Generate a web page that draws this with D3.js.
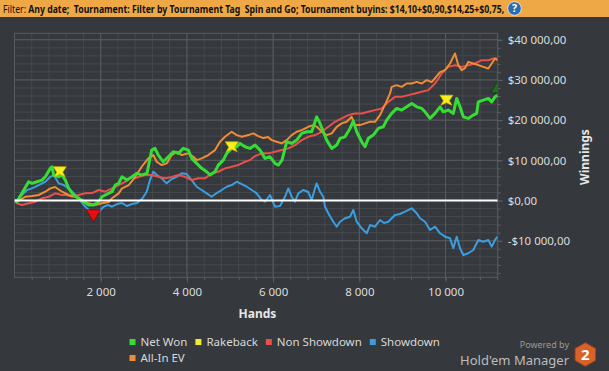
<!DOCTYPE html>
<html>
<head>
<meta charset="utf-8">
<script src="https://cdn.jsdelivr.net/npm/d3@7"></script>
<style>
  body { margin: 0; background: #35383c; }
  svg { display: block; font-family: "Segoe UI", "Noto Sans", sans-serif; }
</style>
</head>
<body>
<svg id="graph"></svg>
<script>
// [hands, winnings]
const netWon = [[0,0],[58,-300],[174,1860],[329,4670],[406,4270],[522,4670],[638,5090],[715,5910],[831,8000],[870,8400],[909,6340],[1025,5910],[1102,6340],[1179,5090],[1257,3030],[1373,1370],[1489,550],[1605,-300],[1721,-1120],[1837,-1120],[1953,-300],[2030,940],[2107,1370],[2262,2190],[2339,3850],[2417,4270],[2494,5910],[2610,5090],[2726,5910],[2842,6760],[2951,6340],[3074,6760],[3183,12550],[3260,12970],[3336,11310],[3452,9640],[3568,10880],[3684,12130],[3800,11730],[3916,12970],[4032,12550],[4111,10490],[4227,9240],[4343,8000],[4459,7160],[4536,6340],[4652,7160],[4728,8820],[4844,10060],[4923,11730],[5039,12970],[5155,13370],[5232,14210],[5348,13370],[5464,12970],[5580,13790],[5696,12550],[5812,10490],[5928,10880],[6044,9240],[6120,8820],[6206,10060],[6315,14610],[6431,14210],[6547,15030],[6663,16700],[6779,17100],[6895,17100],[7011,20820],[7088,19180],[7164,17100],[7243,15030],[7359,12970],[7475,13790],[7552,15460],[7668,15850],[7784,17940],[7860,19760],[7939,17100],[8055,14610],[8132,13370],[8208,15460],[8324,16280],[8440,17940],[8556,18340],[8635,20000],[8751,21670],[8867,22910],[8983,22490],[9099,23310],[9215,24150],[9331,23310],[9447,22910],[9524,22070],[9640,20430],[9756,21670],[9872,23310],[9948,22070],[10064,22490],[10180,21670],[10259,25400],[10336,23310],[10412,20820],[10528,20430],[10644,21250],[10723,21670],[10760,24550],[10876,24970],[10992,25400],[11071,24550],[11148,25790],[11201,26220]];

const allInEV = [[0,0],[58,-300],[251,940],[406,1120],[561,1370],[715,2190],[831,3030],[940,3360],[1102,2190],[1257,1370],[1411,940],[1566,120],[1721,-700],[1875,-1120],[2030,-700],[2185,-370],[2262,550],[2417,1790],[2494,3030],[2649,3850],[2803,5910],[2951,8400],[3104,10490],[3220,11310],[3299,9640],[3415,8820],[3531,9240],[3647,11310],[3763,12130],[3879,11310],[4032,11730],[4148,10880],[4227,10060],[4343,10490],[4496,11310],[4652,12550],[4768,14610],[4884,15850],[5039,17100],[5155,16280],[5278,15850],[5424,16280],[5540,16700],[5656,16030],[5772,15530],[5881,15780],[5967,15030],[6083,14610],[6199,14210],[6315,15030],[6431,16280],[6547,17100],[6663,17520],[6816,18340],[6932,18760],[7018,18340],[7127,17100],[7243,16280],[7359,16700],[7475,18340],[7591,19180],[7707,19580],[7823,20820],[7900,18760],[8016,18760],[8132,19180],[8248,19580],[8364,19580],[8480,21250],[8556,22990],[8635,24730],[8712,26640],[8751,28280],[8867,28700],[8983,28280],[9099,29120],[9215,29120],[9331,29520],[9447,29120],[9563,29940],[9679,29450],[9756,30440],[9872,31930],[9988,32430],[10104,34090],[10180,35730],[10220,36580],[10296,33670],[10375,32430],[10452,32930],[10528,34490],[10644,34090],[10760,33670],[10876,33250],[10992,32850],[11071,34090],[11148,35340],[11201,34910]];

const nonShowdown = [[0,0],[58,-700],[174,-1120],[329,-700],[483,-300],[638,550],[793,940],[947,1790],[1102,1370],[1218,1370],[1334,940],[1489,1370],[1643,1790],[1798,1860],[1953,2610],[2107,2190],[2262,3030],[2417,3850],[2571,4670],[2726,5910],[2796,5590],[3028,6340],[3183,6340],[3336,5910],[3492,5520],[3647,5840],[3800,6340],[3956,5910],[4111,5090],[4264,5520],[4420,5520],[4575,6760],[4728,7160],[4884,8000],[5039,8400],[5192,8820],[5348,9640],[5464,10060],[5580,11060],[5735,11730],[5888,11730],[6044,12130],[6199,12550],[6352,12970],[6508,13790],[6663,15030],[6816,15850],[6972,16280],[7127,17100],[7280,18340],[7436,19580],[7591,20430],[7744,21250],[7900,21670],[8055,21670],[8208,22070],[8364,22490],[8519,22910],[8672,24550],[8828,25790],[8983,25840],[9136,26220],[9292,26640],[9447,27040],[9600,27460],[9756,29120],[9911,31610],[10064,33250],[10220,33670],[10375,33250],[10528,33670],[10684,34090],[10839,34910],[10992,34910],[11108,35340],[11201,35340]];

const showdown = [[0,0],[58,120],[174,1370],[290,2610],[406,3030],[561,3850],[715,4670],[831,5910],[909,6340],[1025,4270],[1141,3850],[1257,3030],[1373,1790],[1489,550],[1605,-1120],[1721,-2360],[1837,-3600],[1953,-2780],[2069,-1540],[2169,-1120],[2262,-1540],[2378,-870],[2494,-620],[2610,-1370],[2726,-870],[2842,-620],[2958,370],[3067,2190],[3144,5090],[3220,7160],[3306,6340],[3415,5520],[3531,4270],[3647,5340],[3763,5910],[3879,6760],[3995,6590],[4111,5090],[4227,3430],[4343,2610],[4459,1790],[4575,940],[4691,1860],[4807,2610],[4923,3430],[5039,3850],[5155,4670],[5271,4100],[5387,3430],[5503,2610],[5619,1790],[5735,120],[5812,-300],[5928,1370],[6044,-1540],[6160,-1370],[6276,940],[6352,3030],[6431,940],[6508,-300],[6584,1790],[6700,2610],[6816,2110],[6895,120],[6972,3030],[7011,4270],[7088,2190],[7164,940],[7204,-1540],[7280,-3180],[7396,-5270],[7475,-6510],[7552,-5270],[7668,-4420],[7784,-4030],[7860,-2360],[7939,-5270],[8055,-6910],[8171,-8150],[8248,-6090],[8364,-6510],[8480,-4850],[8572,-5590],[8672,-5270],[8828,-3600],[8944,-3360],[9060,-2780],[9215,-1940],[9331,-3180],[9408,-4420],[9524,-5270],[9640,-7330],[9756,-6510],[9872,-8150],[9988,-9000],[10104,-9390],[10180,-11880],[10259,-9000],[10336,-11880],[10412,-13550],[10528,-13120],[10644,-12300],[10760,-9820],[10876,-10240],[10992,-9820],[11071,-11480],[11148,-9820],[11201,-9000]];

const rakebackMarks = [[1050,7160],[5040,13370],[10020,24970]];
const lowMarks = [[1830,-3800]];
const highMarks = [[11210,28280]];

const handTicks = [2000, 4000, 6000, 8000, 10000];
const winTicks = [-10000, 0, 10000, 20000, 30000, 40000];

const legendRows = [
    [['Net Won', '#35dd35'], ['Rakeback', '#f2ea2e'], ['Non Showdown', '#e8504c'], ['Showdown', '#3a9ee0']],
    [['All-In EV', '#f08c35']]
];

const filterLabel = 'Filter: ';
const filterText = 'Any date;  Tournament: Filter by Tournament Tag  Spin and Go; Tournament buyins: $14,10+$0,90,$14,25+$0,75,';

const width = 609;
const height = 371;
const plot = {left: 14.5, right: 497.7, top: 33.3, bottom: 277.3};

const svg = d3.select('#graph').attr('width', width).attr('height', height);

svg.append('rect').attr('width', width).attr('height', height).attr('fill', '#35383c');

// filter bar
svg.append('rect').attr('width', width).attr('height', 17).attr('fill', '#efa846');
const title = svg.append('text')
    .attr('font-size', 11).attr('fill', '#111')
    .attr('xml:space', 'preserve');
title.append('tspan').text(filterLabel);
title.append('tspan').attr('font-weight', 'bold').text(filterText);
const titleLen = title.node().getComputedTextLength();
const sx = Math.min(1, 502 / titleLen);
title.attr('transform', `translate(3,12.5) scale(${sx},1)`);

const help = svg.append('g').attr('transform', 'translate(514.5,8.5)');
help.append('circle').attr('r', 6.8).attr('fill', '#2a6cb0').attr('stroke', '#e8eef5').attr('stroke-width', 0.8);
help.append('text').attr('text-anchor', 'middle').attr('y', 3.8)
    .attr('font-size', 10.5).attr('font-weight', 'bold').attr('fill', '#fff').text('?');

const x = d3.scaleLinear().domain([0, 11210]).range([plot.left, plot.right]);
const y = d3.scaleLinear().domain([-19100, 41600]).range([plot.bottom, plot.top]);

// grid
const grid = svg.append('g');
grid.selectAll('line.vminor')
    .data(d3.range(400, 11210, 400))
    .join('line')
    .attr('x1', d => x(d)).attr('x2', d => x(d))
    .attr('y1', plot.top).attr('y2', plot.bottom)
    .attr('stroke', '#45494d').attr('stroke-width', 1);
grid.selectAll('line.hminor')
    .data(d3.range(-18000, 41600, 2000))
    .join('line')
    .attr('x1', plot.left).attr('x2', plot.right)
    .attr('y1', d => y(d)).attr('y2', d => y(d))
    .attr('stroke', '#45494d').attr('stroke-width', 1);
grid.selectAll('line.vmajor')
    .data(handTicks)
    .join('line')
    .attr('x1', d => x(d)).attr('x2', d => x(d))
    .attr('y1', plot.top).attr('y2', plot.bottom)
    .attr('stroke', '#585c60').attr('stroke-width', 1);
grid.selectAll('line.hmajor')
    .data(winTicks)
    .join('line')
    .attr('x1', plot.left).attr('x2', plot.right)
    .attr('y1', d => y(d)).attr('y2', d => y(d))
    .attr('stroke', '#585c60').attr('stroke-width', 1);
grid.append('rect')
    .attr('x', plot.left).attr('y', plot.top)
    .attr('width', plot.right - plot.left).attr('height', plot.bottom - plot.top)
    .attr('fill', 'none').attr('stroke', '#585c60');

// axes
const money = d => (d < 0 ? '-' : '') + '$' + d3.format(',')(Math.abs(d)).replace(/,/g, ' ') + ',00';

const yMinor = svg.append('g').attr('transform', `translate(${plot.right},0)`)
    .call(d3.axisRight(y).tickValues(d3.range(-18000, 41600, 2000)).tickSize(3).tickFormat(''));
const yAxis = svg.append('g').attr('transform', `translate(${plot.right},0)`)
    .call(d3.axisRight(y).tickValues(winTicks).tickSize(5).tickPadding(5).tickFormat(money));
const xMinor = svg.append('g').attr('transform', `translate(0,${plot.bottom})`)
    .call(d3.axisBottom(x).tickValues(d3.range(400, 11210, 400)).tickSize(3).tickFormat(''));
const xAxis = svg.append('g').attr('transform', `translate(0,${plot.bottom})`)
    .call(d3.axisBottom(x).tickValues(handTicks).tickSize(5).tickPadding(6)
        .tickFormat(d => d3.format(',')(d).replace(/,/g, ' ')));

[yMinor, yAxis, xMinor, xAxis].forEach(a => {
    a.select('.domain').remove();
    a.selectAll('line').attr('stroke', '#5c6064');
    a.selectAll('text').attr('fill', '#dcdcdc').attr('font-size', 11.5)
        .attr('font-family', '"Segoe UI", "Noto Sans", sans-serif');
});

svg.append('text')
    .attr('transform', 'translate(589,157) rotate(-90)')
    .attr('text-anchor', 'middle')
    .attr('font-size', 12).attr('font-weight', 'bold').attr('fill', '#e6e6e6')
    .text('Winnings');

svg.append('text')
    .attr('x', 257.5).attr('y', 318)
    .attr('text-anchor', 'middle')
    .attr('font-size', 12).attr('font-weight', 'bold').attr('fill', '#e6e6e6')
    .text('Hands');

// series
svg.append('clipPath').attr('id', 'plot-clip')
    .append('rect')
    .attr('x', plot.left).attr('y', plot.top)
    .attr('width', plot.right - plot.left).attr('height', plot.bottom - plot.top);

const chart = svg.append('g').attr('clip-path', 'url(#plot-clip)');

const line = d3.line().x(d => x(d[0])).y(d => y(d[1]));

const series = [
    {data: showdown, color: '#3a9ee0', w: 2},
    {data: nonShowdown, color: '#e8504c', w: 2},
    {data: allInEV, color: '#f08c35', w: 2},
    {data: netWon, color: '#35dd35', w: 3}
];
chart.selectAll('path.series')
    .data(series)
    .join('path')
    .attr('class', 'series')
    .attr('d', d => line(d.data))
    .attr('fill', 'none')
    .attr('stroke', d => d.color)
    .attr('stroke-width', d => d.w)
    .attr('stroke-linejoin', 'round');

chart.append('line')
    .attr('x1', plot.left).attr('x2', plot.right)
    .attr('y1', y(0)).attr('y2', y(0))
    .attr('stroke', '#ffffff').attr('stroke-width', 2);

// markers
chart.selectAll('path.rb')
    .data(rakebackMarks)
    .join('path')
    .attr('transform', d => `translate(${x(d[0])},${y(d[1])})`)
    .attr('d', 'M-6.5,-5L6.5,-5L3,0.5L5.5,5L0,2.5L-5.5,5L-3,0.5Z')
    .attr('fill', '#f7ef1c').attr('stroke', '#c9b400').attr('stroke-width', 0.7);

chart.selectAll('path.low')
    .data(lowMarks)
    .join('path')
    .attr('transform', d => `translate(${x(d[0])},${y(d[1])})`)
    .attr('d', 'M-7,-6L7,-6L0,6Z')
    .attr('fill', '#e8100e').attr('stroke', '#8a0000').attr('stroke-width', 0.7);

chart.selectAll('path.high')
    .data(highMarks)
    .join('path')
    .attr('transform', d => `translate(${x(d[0])},${y(d[1])})`)
    .attr('d', 'M0,-6L6.5,6L-6.5,6Z')
    .attr('fill', '#1f6e1f').attr('stroke', '#0d3d0d').attr('stroke-width', 0.7);

// legend
const legend = svg.append('g');
legendRows.forEach((row, ri) => {
    let lx = 129.5;
    const ly = 342 + ri * 16;
    row.forEach(([name, color]) => {
        legend.append('rect')
            .attr('x', lx).attr('y', ly - 3)
            .attr('width', 6).attr('height', 6)
            .attr('fill', color);
        const t = legend.append('text')
            .attr('x', lx + 11).attr('y', ly + 4)
            .attr('font-size', 11.5).attr('fill', '#d8d8d8')
            .text(name);
        lx += 11 + t.node().getComputedTextLength() + 8;
    });
});

// powered by
svg.append('text')
    .attr('x', 569).attr('y', 347.5)
    .attr('text-anchor', 'end')
    .attr('font-size', 9).attr('fill', '#9a9a9a')
    .text('Powered by');
svg.append('text')
    .attr('x', 569).attr('y', 364.5)
    .attr('text-anchor', 'end')
    .attr('font-size', 13).attr('fill', '#bdbdbd')
    .text("Hold'em Manager");

const hex = d3.range(6).map(i => {
    const a = Math.PI / 3 * i - Math.PI / 2;
    return [585.3 + 11.8 * Math.cos(a), 354.5 + 11.8 * Math.sin(a)];
});
svg.append('path')
    .attr('d', 'M' + hex.join('L') + 'Z')
    .attr('fill', '#d9622a').attr('stroke', '#a84418').attr('stroke-width', 1);
svg.append('text')
    .attr('x', 585.3).attr('y', 360)
    .attr('text-anchor', 'middle')
    .attr('font-size', 15).attr('font-weight', 'bold').attr('fill', '#fff')
    .text('2');
</script>
</body>
</html>
